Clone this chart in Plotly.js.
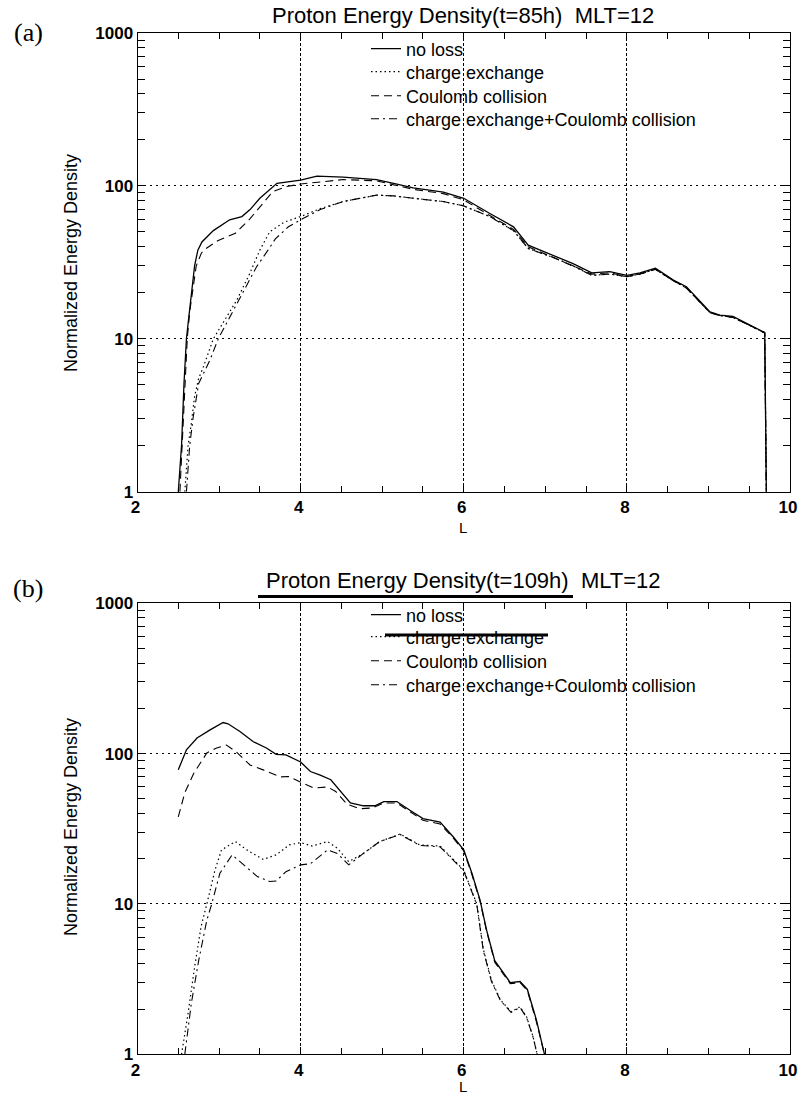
<!DOCTYPE html>
<html><head><meta charset="utf-8">
<script src="https://cdn.plot.ly/plotly-3.0.1.min.js"></script>
<style>html,body{margin:0;padding:0;background:#fff}#chart{width:798px;height:1097px}</style>
</head><body><div id="chart"></div>
<script>
// ---------- data ----------
const seriesNames = ["no loss", "charge exchange", "Coulomb collision", "charge exchange+Coulomb collision"];
const panelTitles = ["Proton Energy Density(t=85h) \u00a0MLT=12", "Proton Energy Density(t=109h) \u00a0MLT=12"];
const panelLabels = ["(a)", "(b)"];
const xAxisTitle = "L";
const yAxisTitle = "Normalized Energy Density";
const xTickVals = [2, 4, 6, 8, 10];
const xTickText = ["2", "4", "6", "8", "10"];
const yTickVals = [1, 10, 100, 1000];
const yTickText = ["1", "10", "100", "1000"];
const yMinorVals = [2,3,4,5,6,7,8,9,20,30,40,50,60,70,80,90,200,300,400,500,600,700,800,900];

// panel (a) t=85h
const aNoLossL = [2.50,2.54,2.57,2.60,2.63,2.66,2.70,2.74,2.79,2.93,3.13,3.28,3.38,3.50,3.71,4.00,4.20,4.52,4.93,5.14,5.38,5.75,6.00,6.32,6.61,6.79,7.10,7.34,7.57,7.79,8.00,8.16,8.35,8.57,8.73,8.88,9.02,9.14,9.30,9.51,9.69,9.71];
const aNoLossE = [1,2.0,5.1,10,14,20,30,38,43,51,60,63,70,83,104,109,116,114,110,104,97,91,83,66,54,41,35,31,27,27.5,26,27,28.9,24.2,21.9,17.9,15,14.3,14,12.3,11,1];
const aChargeL = [2.58,2.62,2.66,2.70,2.75,2.81,2.93,3.09,3.22,3.38,3.50,3.62,3.80,4.00,4.24,4.52,4.93,5.14,5.38,5.75,6.00,6.32,6.61,6.79,7.10,7.34,7.57,7.79,8.00,8.16,8.35,8.57,8.73,8.88,9.02,9.14,9.30,9.51,9.69,9.71];
const aChargeE = [1,2.0,2.8,4.2,5.5,6.6,10,14,18,27,38,50,58,63,71,79,87,86,83,79,74,63,51,39,34,30,26,26.5,25.5,26.5,28.5,24,21.5,17.7,14.8,14.2,13.8,12.2,10.9,1];
const aCoulL = [2.52,2.56,2.59,2.61,2.64,2.68,2.72,2.78,2.81,2.99,3.20,3.38,3.50,3.66,3.83,4.00,4.24,4.52,4.93,5.14,5.38,5.75,6.00,6.32,6.61,6.79,7.10,7.34,7.57,7.79,8.00,8.16,8.35,8.57,8.73,8.88,9.02,9.14,9.30,9.51,9.69,9.71];
const aCoulE = [1,3,6,10,15,22,30,36,38,44,49,61,73,92,99,103,106,110,108,102,95,89,81,64,52,40,34,30,26.5,27,25.5,26.5,28.5,24,21.5,17.7,14.8,14.2,13.8,12.2,10.9,1];
const aBothL = [2.60,2.64,2.68,2.75,2.89,2.99,3.22,3.46,3.60,3.69,3.85,4.00,4.24,4.52,4.93,5.14,5.38,5.75,6.00,6.32,6.61,6.79,7.10,7.34,7.57,7.79,8.00,8.16,8.35,8.57,8.73,8.88,9.02,9.14,9.30,9.51,9.69,9.71];
const aBothE = [1,2.0,3.0,5.1,7.3,10,17,29.6,38,45,54,60,70,79,87,86,83,79,74,63,51,39,34,30,26,26.5,25.5,26.5,28.5,24,21.5,17.7,14.8,14.2,13.8,12.2,10.9,1];

// panel (b) t=109h
const bNoLossL = [2.50,2.60,2.73,2.89,3.05,3.11,3.26,3.42,3.58,3.70,3.82,4.00,4.12,4.24,4.37,4.49,4.61,4.77,4.91,5.02,5.18,5.34,5.50,5.71,5.87,6.00,6.10,6.20,6.28,6.38,6.48,6.57,6.69,6.78,6.89,6.99];
const bNoLossE = [78,106,127,144,161,158,140,120,109,99,98,88,76,72,67,56,47,45,45,48,48,42,37,35,28,22.9,16,10.6,6.7,4.2,3.5,3.0,3.05,2.7,1.7,1];
const bChargeL = [2.54,2.62,2.70,2.78,2.85,2.95,3.03,3.20,3.34,3.54,3.70,3.86,4.00,4.14,4.33,4.45,4.59,4.77,4.97,5.22,5.46,5.71,6.00,6.16,6.24,6.34,6.45,6.58,6.69,6.77,6.85,6.90];
const bChargeE = [1,1.87,3.8,7.1,10,16.8,22.9,26,22.9,19.8,21.2,24.7,25.6,24.3,26,23.5,19.1,21.7,26,29.2,24.7,24.3,16.8,10,5,3.1,2.3,1.92,2.07,1.78,1.31,1];
const bCoulL = [2.50,2.58,2.69,2.85,2.97,3.09,3.21,3.38,3.54,3.75,3.85,4.00,4.16,4.33,4.43,4.57,4.73,4.88,5.02,5.18,5.34,5.50,5.71,5.87,6.00,6.10,6.20,6.28,6.38,6.48,6.57,6.69,6.78,6.89,6.99];
const bCoulE = [38,55,74,101,109,114,103,84,78,70,70.5,65,59,60,56,46,43,43.5,47,47,41,36,34,27.5,22.5,15.7,10.4,6.6,4.1,3.45,2.95,3.0,2.65,1.65,1];
const bBothL = [2.58,2.66,2.75,2.85,2.91,3.01,3.16,3.30,3.47,3.62,3.70,3.82,4.00,4.12,4.33,4.45,4.59,4.77,4.97,5.22,5.46,5.71,6.00,6.16,6.24,6.34,6.45,6.58,6.69,6.77,6.85,6.90];
const bBothE = [1,2.18,4.2,7.8,10,16,21.2,18.2,15.2,14.1,14.2,16.4,18.2,18.5,22.9,21.7,18.2,21.7,26,29,24.5,24,16.6,9.9,4.9,3.05,2.28,1.9,2.05,1.76,1.3,1];

// ---------- styling ----------
const W = 798, H = 1097;
const px = x => x / W;
const py = y => 1 - y / H;
const FONT = "Liberation Sans, Arial, Helvetica, sans-serif";
const styles = [
  {dash: "solid", width: 1.3},
  {dash: "1.5px,3px", width: 1.2},
  {dash: "8px,5px", width: 1.1},
  {dash: "8px,4px,2px,4px", width: 1.1}
];

const panels = [
  {xa: "x", ya: "y", data: [[aNoLossL, aNoLossE], [aChargeL, aChargeE], [aCoulL, aCoulE], [aBothL, aBothE]], legRows: [49, 72, 96, 119], leg0: 1},
  {xa: "x2", ya: "y2", data: [[bNoLossL, bNoLossE], [bChargeL, bChargeE], [bCoulL, bCoulE], [bBothL, bBothE]], legRows: [615, 637, 661, 685], leg0: 5}
];

const traces = [];
const layout = {
  width: W, height: H,
  margin: {l: 0, r: 0, t: 0, b: 0},
  paper_bgcolor: "#fff", plot_bgcolor: "#fff",
  font: {family: FONT, color: "#000"},
  showlegend: true,
  annotations: [], shapes: []
};

panels.forEach((p, pi) => {
  p.data.forEach((d, si) => {
    const legName = "legend" + (p.leg0 + si === 1 ? "" : (p.leg0 + si));
    traces.push({
      type: "scatter", mode: "lines",
      x: d[0], y: d[1], name: seriesNames[si],
      xaxis: p.xa, yaxis: p.ya, legend: legName, showlegend: true,
      line: {color: "#000", width: styles[si].width, dash: styles[si].dash}
    });
    layout[legName] = {
      x: px(366), xanchor: "left",
      y: py(p.legRows[si]), yanchor: "middle",
      bgcolor: "rgba(0,0,0,0)", borderwidth: 0,
      font: {family: FONT, size: 18, color: "#000"},
      itemwidth: 30, itemclick: false, itemdoubleclick: false
    };
  });
});

const xDomain = [px(137.5), px(790)];
const yDomains = [[py(491.7), py(33)], [py(1054.3), py(603.3)]];
const titleY = [15, 580];
const botPx = [491.7, 1054.3];

const tickCommon = {ticks: "inside", tickwidth: 1, tickcolor: "#000", zeroline: false, fixedrange: true};

[0, 1].forEach(i => {
  const sfx = i === 0 ? "" : "2";
  const xs = "x" + sfx, ys = "y" + sfx;
  const xMinor = {tick0: 2, dtick: 0.5, ticks: "inside", ticklen: 6, tickwidth: 1, tickcolor: "#000", showgrid: false};
  const yMinor = {tickmode: "array", tickvals: yMinorVals, ticks: "inside", ticklen: 7, tickwidth: 1, tickcolor: "#000", showgrid: false};
  layout["xaxis" + sfx] = Object.assign({}, tickCommon, {
    domain: xDomain, range: [2, 10], anchor: ys,
    tickmode: "array", tickvals: xTickVals, ticktext: xTickText, ticklen: 7,
    showline: true, linecolor: "#000", linewidth: 1, mirror: "ticks",
    showgrid: true, gridcolor: "#000", gridwidth: 1, griddash: "3px,2px",
    ticklabeloverflow: "allow", ticklabelshift: -2,
    tickfont: {family: FONT, size: 17, weight: "bold", color: "#000"},
    minor: xMinor
  });
  layout["yaxis" + sfx] = Object.assign({}, tickCommon, {
    type: "log", domain: yDomains[i], range: [0, 3], anchor: xs,
    tickmode: "array", tickvals: yTickVals, ticktext: yTickText, ticklen: 8,
    showline: true, linecolor: "#000", linewidth: 1, mirror: "ticks",
    showgrid: true, gridcolor: "#000", gridwidth: 1, griddash: "2px,4px",
    ticklabeloverflow: "allow",
    tickfont: {family: FONT, size: 17, weight: "bold", color: "#000"},
    minor: yMinor
  });
  // companion axes on the top and right edges carrying the mirrored tick marks
  const xTop = "xaxis" + (i === 0 ? "3" : "4"), yRight = "yaxis" + (i === 0 ? "3" : "4");
  layout[xTop] = Object.assign({}, tickCommon, {
    domain: xDomain, range: [2, 10], overlaying: xs, side: "top", anchor: ys,
    tickmode: "array", tickvals: xTickVals, ticklen: 7, showticklabels: false,
    showline: false, showgrid: false, minor: xMinor
  });
  layout[yRight] = Object.assign({}, tickCommon, {
    type: "log", domain: yDomains[i], range: [0, 3], overlaying: ys, side: "right", anchor: xs,
    tickmode: "array", tickvals: yTickVals, ticklen: 8, showticklabels: false,
    showline: false, showgrid: false, minor: yMinor
  });
  const bot = botPx[i];
  layout.annotations.push(
    {text: panelTitles[i], xref: "paper", yref: "paper", x: px(463), y: py(titleY[i]), xanchor: "center", yanchor: "middle", showarrow: false, font: {family: FONT, size: 22, color: "#000"}},
    {text: panelLabels[i], xref: "paper", yref: "paper", x: px(28), y: py(i === 0 ? 33 : 588), xanchor: "center", yanchor: "middle", showarrow: false, font: {family: "Liberation Serif, Times New Roman, serif", size: 26, color: "#000"}},
    {text: yAxisTitle, xref: "paper", yref: "paper", x: px(71), y: py(i === 0 ? 263 : 827), xanchor: "center", yanchor: "middle", textangle: -90, showarrow: false, font: {family: FONT, size: 18, color: "#000"}},
    {text: xAxisTitle, xref: "paper", yref: "paper", x: px(463), y: py(i === 0 ? bot + 36 : 1097), xanchor: "center", yanchor: i === 0 ? "middle" : "bottom", showarrow: false, font: {family: FONT, size: 15, color: "#000"}}
  );
});

// heavy overprinted strokes present in panel (b) of the scanned figure
layout.shapes.push(
  {type: "line", xref: "paper", yref: "paper", x0: px(258), x1: px(573), y0: py(596.5), y1: py(596.5), line: {color: "#000", width: 3}},
  {type: "line", xref: "paper", yref: "paper", x0: px(385), x1: px(548), y0: py(635), y1: py(635), line: {color: "#000", width: 3}}
);

Plotly.newPlot("chart", traces, layout, {displayModeBar: false, staticPlot: true});
</script>
</body></html>
